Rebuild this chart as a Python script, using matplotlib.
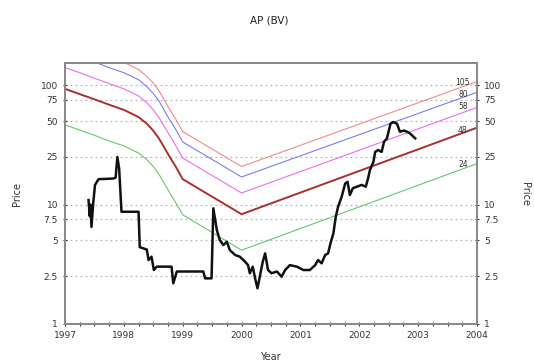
import matplotlib
matplotlib.use("Agg")
import matplotlib.pyplot as plt
from matplotlib.ticker import FixedLocator, NullFormatter, NullLocator

# ---- data ----
price_years = [1997.40, 1997.42, 1997.43, 1997.45, 1997.48, 1997.51, 1997.57, 1997.82, 1997.86,
               1997.89, 1997.92, 1997.96, 1998.25, 1998.27, 1998.39, 1998.42, 1998.47, 1998.51,
               1998.56, 1998.81, 1998.84, 1998.90, 1999.35, 1999.38, 1999.49, 1999.52, 1999.58,
               1999.63, 1999.69, 1999.75, 1999.80, 1999.89, 1999.97, 2000.06, 2000.11, 2000.14,
               2000.19, 2000.23, 2000.27, 2000.31, 2000.36, 2000.40, 2000.45, 2000.51, 2000.60,
               2000.68, 2000.74, 2000.82, 2000.94, 2001.05, 2001.16, 2001.25, 2001.30, 2001.36,
               2001.42, 2001.47, 2001.51, 2001.56, 2001.60, 2001.64, 2001.70, 2001.76, 2001.80,
               2001.84, 2001.89, 2001.96, 2002.04, 2002.11, 2002.15, 2002.18, 2002.24, 2002.27,
               2002.32, 2002.38, 2002.42, 2002.47, 2002.53, 2002.58, 2002.64, 2002.69, 2002.76,
               2002.81, 2002.86, 2002.95]
price_values = [10.9, 8.0, 10.0, 6.5, 10.3, 14.6, 16.3, 16.5, 16.8,
                25.0, 20.0, 8.7, 8.7, 4.4, 4.2, 3.43, 3.66, 2.83,
                3.02, 3.02, 2.19, 2.75, 2.75, 2.41, 2.41, 9.3, 6.1,
                5.04, 4.58, 4.88, 4.16, 3.78, 3.66, 3.32, 3.11, 2.66,
                3.02, 2.41, 1.99, 2.49, 3.32, 3.9, 2.83, 2.66, 2.75,
                2.49, 2.83, 3.11, 3.02, 2.83, 2.83, 3.11, 3.43, 3.22,
                3.78, 3.9, 4.73, 5.74, 7.9, 9.6, 11.6, 15.0, 15.5,
                12.0, 13.7, 14.1, 14.6, 14.1, 16.6, 19.4, 22.8, 27.6,
                28.6, 27.6, 33.5, 35.8, 47.5, 49.0, 47.5, 40.7, 41.6,
                40.7, 39.4, 35.8]

band_years = [1997.0, 1997.25, 1997.5, 1997.75, 1998.0, 1998.25, 1998.4, 1998.5, 1998.6,
              1998.75, 1998.9, 1999.0, 2000.0, 2004.0]
band_red = [232, 211, 190, 171, 155, 135, 117, 104, 89, 66, 50, 40.8, 20.8, 107]
band_blue = [191, 173, 156, 140, 127, 111, 96, 85, 73, 54, 41, 33.4, 17.0, 87]
band_magenta = [140, 127, 114, 103, 93, 81, 70.5, 62, 53, 40, 30, 24.5, 12.5, 65]
band_brown = [93, 84, 76, 68.5, 62, 54, 47, 41.5, 35.5, 26.5, 20, 16.3, 8.3, 44]
band_green = [46.5, 42, 38, 34, 31, 27, 23.5, 20.8, 17.8, 13.3, 10, 8.2, 4.15, 22]

band_labels = ["105", "80", "58", "48", "24"]
band_label_values = [106, 84, 66, 41.5, 21.7]

y_ticks = [1, 2.5, 5, 7.5, 10, 25, 50, 75, 100]
y_tick_labels = ["1", "2.5", "5", "7.5", "10", "25", "50", "75", "100"]
x_ticks = [1997, 1998, 1999, 2000, 2001, 2002, 2003, 2004]
x_tick_labels = ["1997", "1998", "1999", "2000", "2001", "2002", "2003", "2004"]

# ---- figure ----
fig = plt.figure(figsize=(5.34, 3.64), dpi=100)
ax = fig.add_axes([0.1217, 0.1099, 0.7716, 0.717])
ax.set_yscale("log")
ax.set_xlim(1997, 2004)
ax.set_ylim(1, 153)

for v in y_ticks:
    ax.axhline(v, color="#b8b8b8", lw=0.9, ls=(0, (1.5, 2.5)), zorder=1)

ax.plot(band_years, band_red, color="#f08a8a", lw=0.8, zorder=2)
ax.plot(band_years, band_blue, color="#7b7bef", lw=0.8, zorder=2)
ax.plot(band_years, band_magenta, color="#ee6cee", lw=0.8, zorder=2)
ax.plot(band_years, band_brown, color="#a83030", lw=1.4, zorder=2)
ax.plot(band_years, band_green, color="#6cc46c", lw=0.8, zorder=2)

ax.plot(price_years, price_values, color="#111111", lw=1.8, zorder=3)

for lab, val in zip(band_labels, band_label_values):
    ax.text(2003.76, val, lab, fontsize=5.5, ha="center", va="center", color="#333333", zorder=4)

ax.yaxis.set_major_locator(FixedLocator(y_ticks))
ax.yaxis.set_minor_locator(NullLocator())
ax.set_yticklabels(y_tick_labels)
ax.xaxis.set_major_locator(FixedLocator(x_ticks))
ax.xaxis.set_minor_locator(FixedLocator([y + q for y in range(1997, 2004) for q in (0.25, 0.5, 0.75)]))
ax.xaxis.set_minor_formatter(NullFormatter())
ax.set_xticklabels(x_tick_labels)

ax.tick_params(axis="both", which="both", labelsize=6.5, colors="#333333", length=3, width=0.8, direction="inout")
ax.tick_params(axis="x", which="minor", length=3)

for s in ax.spines.values():
    s.set_color("#8a8a8a")
    s.set_linewidth(1.4)

ax2 = ax.twinx()
ax2.set_yscale("log")
ax2.set_ylim(ax.get_ylim())
ax2.yaxis.set_major_locator(FixedLocator(y_ticks))
ax2.yaxis.set_minor_locator(NullLocator())
ax2.set_yticklabels(y_tick_labels)
ax2.tick_params(axis="y", labelsize=6.5, colors="#333333", length=3, width=0.8, direction="inout")
for s in ax2.spines.values():
    s.set_color("#8a8a8a")
    s.set_linewidth(1.4)

fig.text(0.505, 0.945, "AP (BV)", ha="center", va="center", fontsize=7.5, color="#222222")
fig.text(0.507, 0.018, "Year", ha="center", va="center", fontsize=7, color="#333333")
fig.text(0.032, 0.468, "Price", ha="center", va="center", rotation=90, fontsize=7, color="#333333")
fig.text(0.983, 0.468, "Price", ha="center", va="center", rotation=270, fontsize=7, color="#333333")

fig.savefig("out.png", dpi=100)
